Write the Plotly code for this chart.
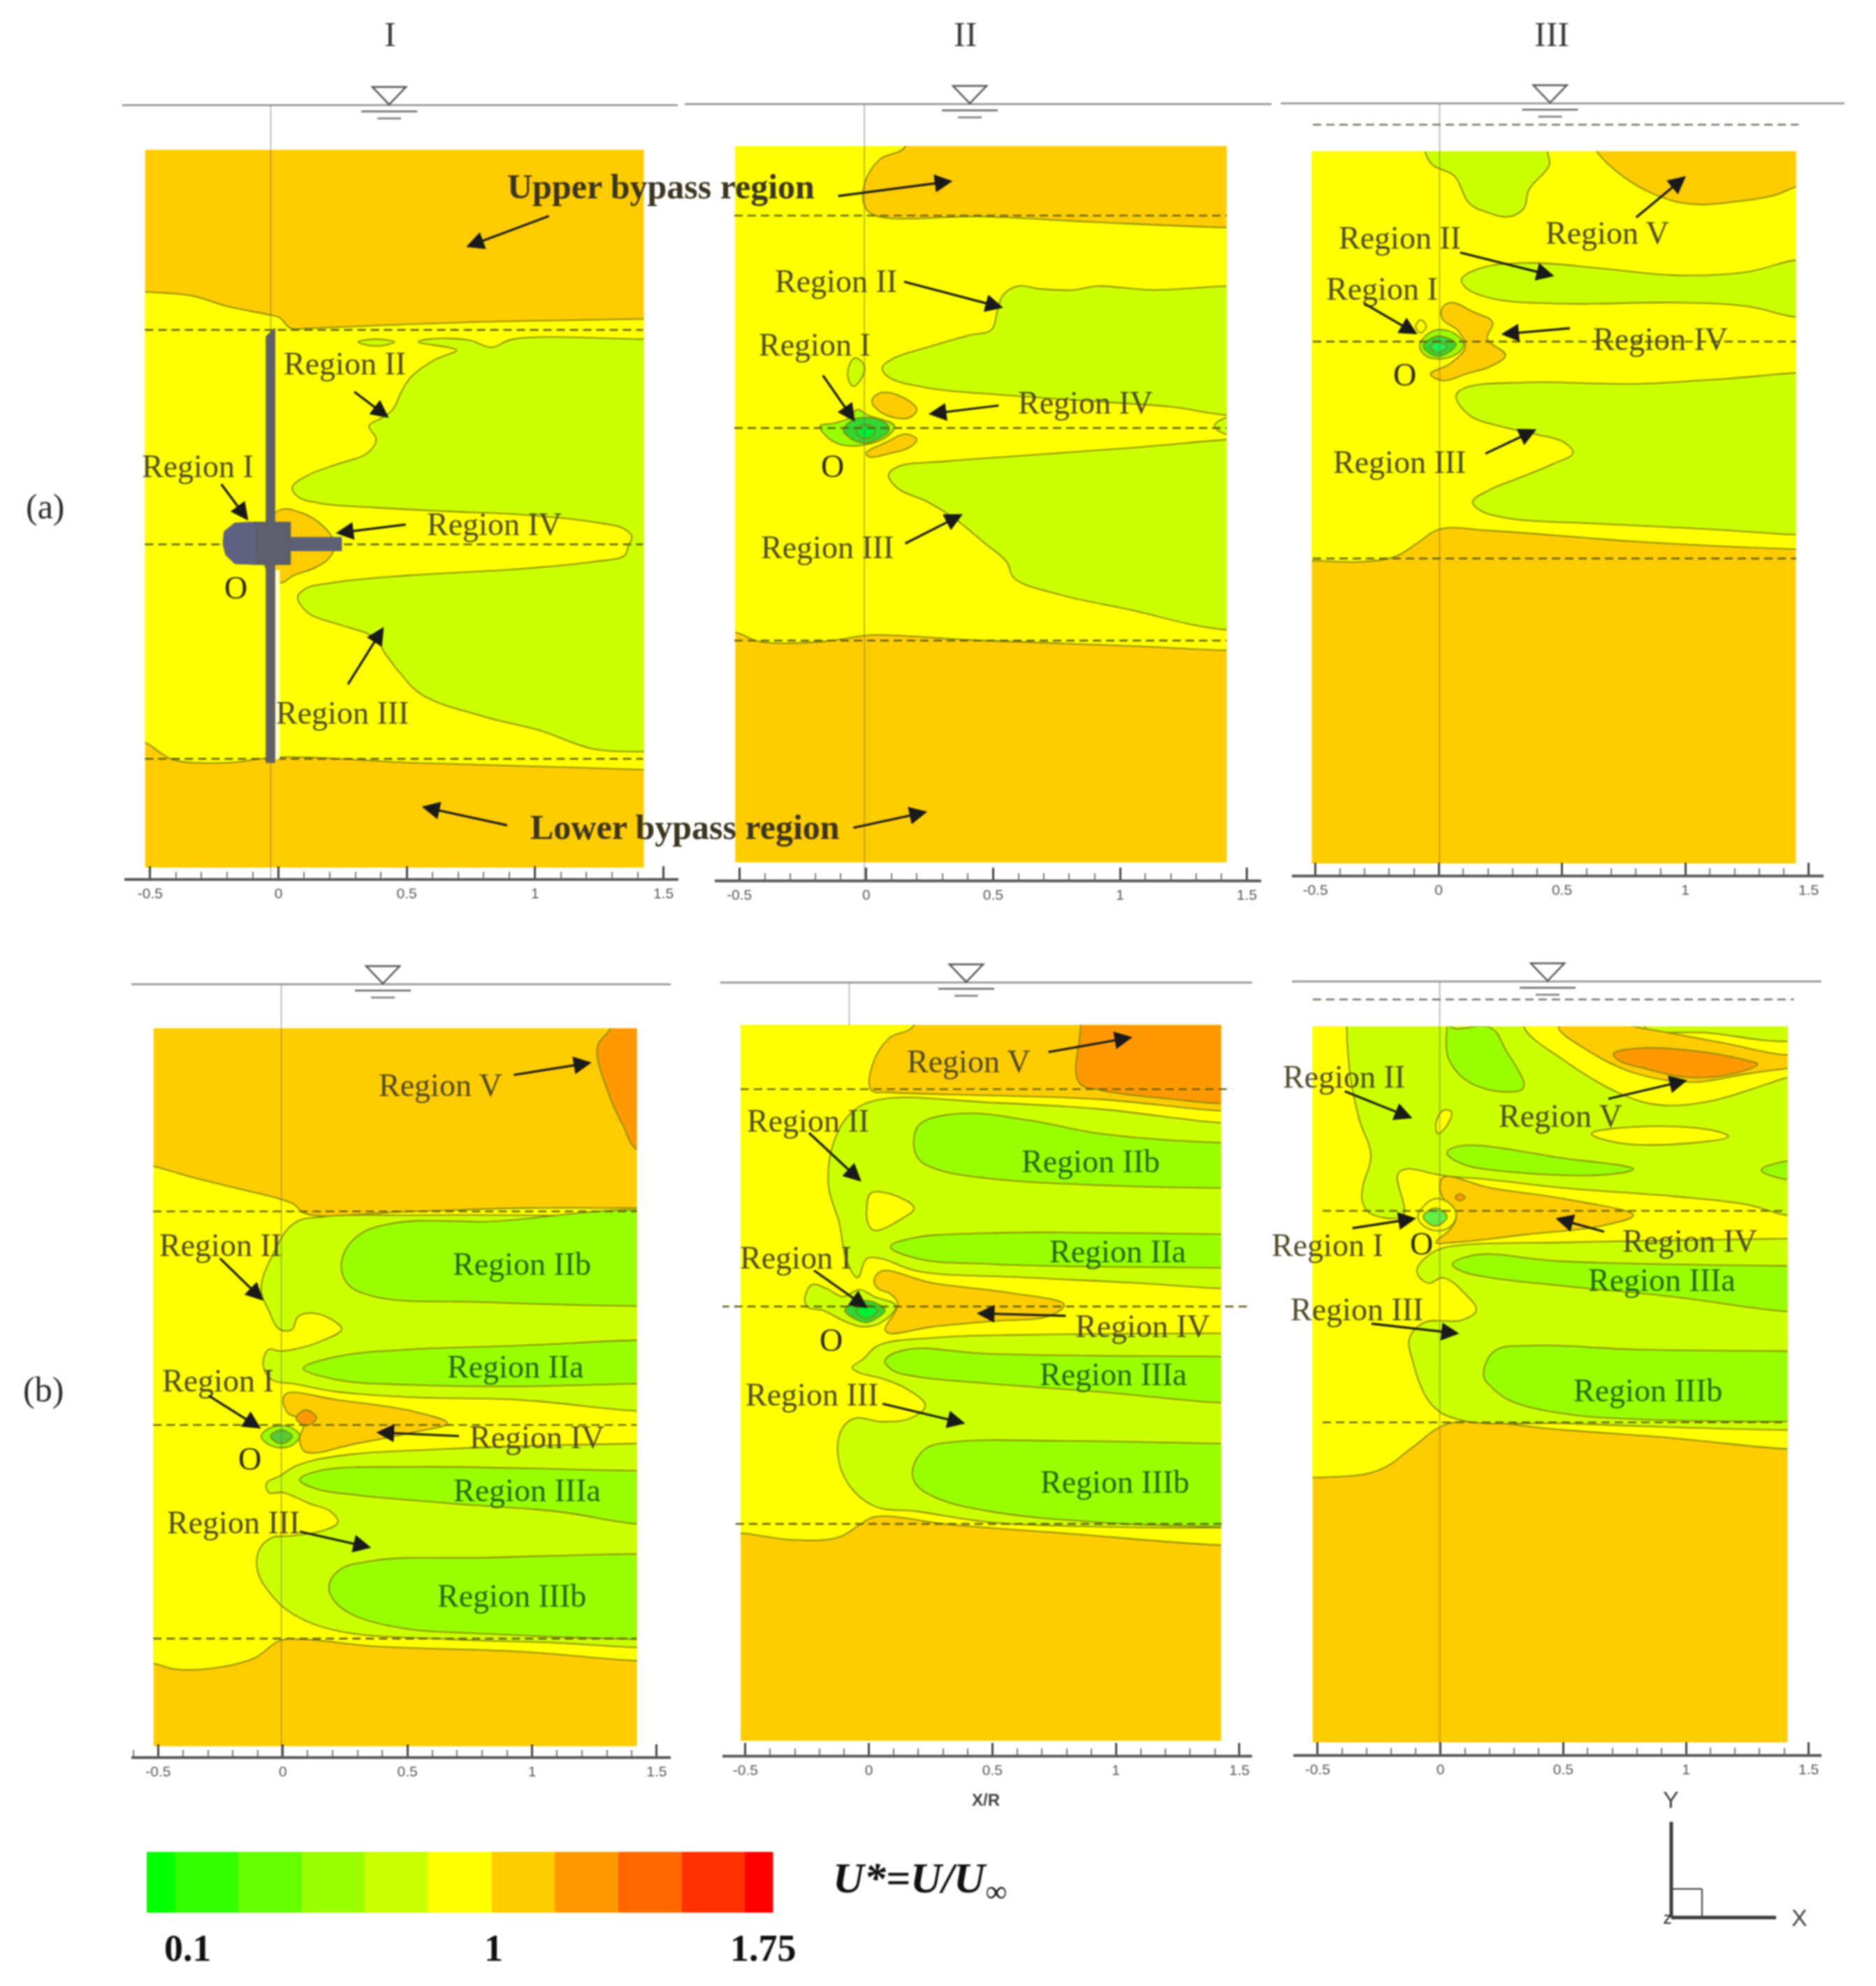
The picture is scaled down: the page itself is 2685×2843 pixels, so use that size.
import plotly.graph_objects as go

# ---------------- colour levels of U* (from the colour bar) ----------------
BAR_EDGES = [0.02, 0.1, 0.28, 0.46, 0.64, 0.82, 1.0, 1.18, 1.36, 1.54, 1.72, 1.80]
BAR_COLORS = ["#00FF00", "#33FF00", "#66FF00", "#99FF00", "#CCFF00", "#FFFF00",
              "#FFCC00", "#FF9900", "#FF6600", "#FF3300", "#FF0000"]
BAR_TICKS = ["0.1", "1", "1.75"]
ORANGE, DEEP, YELLOW, LIME, GREEN, HOT, CORE = "#FFCC00", "#FF9900", "#FFFF00", "#CCFF00", "#99FF00", "#66FF22", "#33D633"

COLUMN_TITLES = ["I", "II", "III"]
ROW_TITLES = ["(a)", "(b)"]
TICK_VALUES = [-0.5, 0, 0.5, 1, 1.5]
TICK_TEXT = ["-0.5", "0", "0.5", "1", "1.5"]

BASE_X = [-1, 2, 2, -1, -1]
BASE_Y = [-4, -4, 4, 4, -4]

# ---------------- panel (a)-I ----------------
A1_YELLOW_X = [-.7,-.519,-.437,-.337,-.195,-.038,.004,.047,.118,.374,.801,1.422,1.6,1.6,1.422,1.085,.516,.004,-.195,-.408,-.465,-.519,-.7]
A1_YELLOW_Y = [1.19,1.177,1.172,1.159,1.109,1.071,1.058,1.008,1.008,1.02,1.038,1.051,1.06,-1.06,-1.051,-1.038,-1.018,-.992,-1.018,-1.005,-.967,-.924,-.88]
A1_WAKE_X = [.054,.118,.232,.346,.381,.353,.403,.445,.481,.516,.602,.694,.659,.545,.587,.744,.829,.915,1.422,1.6,1.6,1.422,1.228,1.014,.801,.559,.474,.417,.374,.232,.118,.075,.104,.232,.516,.943,1.228,1.349,1.363,1.377,1.349,1.228,.943,.659,.374,.161,.075]
A1_WAKE_Y = [.266,.324,.375,.425,.489,.552,.59,.628,.716,.78,.856,.906,.919,.944,.957,.952,.919,.957,.957,.957,-.967,-.967,-.954,-.866,-.803,-.701,-.6,-.511,-.435,-.372,-.322,-.246,-.208,-.175,-.144,-.114,-.081,-.051,-.005,.033,.071,.104,.139,.154,.172,.192,.223]
A1_LENS_X = [.31,.381,.452,.381]
A1_LENS_Y = [.944,.957,.944,.925]
A1_NACELLE_WAKE_X = [-.081,.004,.09,.175,.218,.203,.147,.061,.004]
A1_NACELLE_WAKE_Y = [.008,.159,.147,.084,.008,-.056,-.106,-.144,-.177]
# turbine
BLADE_X = [-.048,-.014,-.014,-.048,-.048]
BLADE_Y = [.97,1.008,-1.018,-1.018,.97]
BLADE_EDGE_X = [-.014,.004,.004,-.014,-.014]
BLADE_EDGE_Y = [-.12,-.12,-1.0,-1.0,-.12]
HUB_X = [-.092,.047,.047,-.092,-.092]
HUB_Y = [.104,.104,-.094,-.094,.104]
NOSE_X = [-.092,-.17,-.212,-.216,-.205,-.17,-.092]
NOSE_Y = [.104,.1,.06,.0,-.05,-.09,-.094]
SHAFT_X = [.047,.246,.246,.047,.047]
SHAFT_Y = [.033,.033,-.03,-.03,.033]

# ---------------- panel (a)-II ----------------
A2_YELLOW_X = [-.7,.155,.155,.052,-.007,-.007,.037,.465,.907,1.42,1.6,1.6,1.42,1.055,.465,.022,-.066,-.169,-.42,-.516,-.7]
A2_YELLOW_Y = [1.6,1.6,1.327,1.263,1.148,1.046,1.0,.995,.969,.944,.944,-1.046,-1.046,-1.026,-1.0,-.974,-.987,-1.005,-1.005,-.962,-.962]
A2_UPPER_X = [.063,.111,.243,.406,.494,.516,.538,.597,.686,.819,.907,1.128,1.42,1.6,1.6,1.42,1.202,.907,.538,.243,.088]
A2_UPPER_Y = [.284,.33,.381,.437,.463,.547,.624,.668,.655,.65,.668,.65,.668,.668,.061,.061,.1,.125,.156,.189,.24]
A2_LOWER_X = [.088,.125,.317,.612,1.055,1.42,1.6,1.6,1.42,1.276,1.055,.76,.583,.553,.465,.347,.243,.125]
A2_LOWER_Y = [-.22,-.182,-.156,-.13,-.092,-.054,-.04,-.949,-.949,-.923,-.859,-.783,-.706,-.629,-.54,-.425,-.348,-.284]
A2_TIP_X = [1.373,1.42,1.6,1.6,1.42]
A2_TIP_Y = [.01,.05,.05,-.03,-.03]
A2_DROP_X = [-.066,-.071,-.044,-.007,-.022,-.052]
A2_DROP_Y = [.215,.279,.33,.292,.228,.197]
A2_LOBE1_X = [.022,.052,.133,.199,.169,.111,.052]
A2_LOBE1_Y = [.125,.164,.151,.087,.049,.049,.079]
A2_LOBE2_X = [0,.081,.155,.199,.169,.096,.015]
A2_LOBE2_Y = [-.118,-.066,-.028,-.054,-.092,-.118,-.136]
A2_RING_X = [-.181,-.125,-.066,-.037,.007,.111,.081,-.007,-.096,-.155]
A2_RING_Y = [.01,.023,.049,.087,.061,.01,-.041,-.079,-.079,-.041]
A2_MID_X = [-.09,-.05,0,.07,.09,.05,-.01,-.06]
A2_MID_Y = [-.01,.04,.05,.03,-.01,-.05,-.07,-.05]
A2_CORE_X = [-.04,-.01,.03,.03,-.01]
A2_CORE_Y = [-.015,.015,0,-.03,-.05]

# ---------------- panel (a)-III ----------------
A3_YELLOW_X = [-.7,1.6,1.6,1.449,.804,.212,.004,-.084,-.173,-.307,-.514,-.7]
A3_YELLOW_Y = [1.1,1.1,-.96,-.957,-.922,-.872,-.865,-.927,-.99,-1.015,-1.01,-1.01]
A3_CROWN_X = [.6,.641,.745,.879,1.027,1.25,1.369,1.449,1.6,1.6]
A3_CROWN_Y = [.98,.877,.764,.677,.634,.652,.677,.714,.75,.98]
A3_TOPGREEN_X = [-.055,-.055,-.025,.064,.123,.197,.286,.345,.367,.449,.441,.441]
A3_TOPGREEN_Y = [.98,.877,.815,.764,.639,.596,.576,.614,.702,.815,.877,.98]
A3_BAND_X = [.093,.167,.36,.656,.953,1.249,1.449,1.6,1.6,1.449,1.249,.953,.508,.212,.108]
A3_BAND_Y = [.288,.338,.363,.338,.306,.321,.376,.376,.113,.113,.163,.18,.175,.2,.251]
A3_LOWER_X = [.071,.108,.36,.804,1.175,1.449,1.6,1.6,1.449,1.101,.656,.286,.167,.138,.197,.33,.464,.545,.508,.39,.241,.123]
A3_LOWER_Y = [-.251,-.213,-.188,-.195,-.17,-.145,-.145,-.89,-.89,-.865,-.84,-.815,-.777,-.739,-.689,-.627,-.564,-.514,-.464,-.426,-.388,-.338]
A3_LOBE_X = [.012,.049,.138,.219,.197,.271,.212,.108,.019,-.033,.049,.108,.079,.019]
A3_LOBE_Y = [.15,.18,.138,.088,.013,-.063,-.113,-.15,-.18,-.15,-.1,-.025,.05,.1]
A3_RING_X = [-.077,-.04,.012,.079,.101,.064,-.003,-.055]
A3_RING_Y = [-.018,.038,.055,.025,-.018,-.063,-.08,-.063]
A3_MID_X = [-.062,-.003,.071,-.003]
A3_MID_Y = [-.02,.025,-.013,-.068]
A3_CORE_X = [-.033,-.003,.034,-.003]
A3_CORE_Y = [-.025,0,-.025,-.05]
A3_DOT_X = [-.093,-.073,-.05,-.073]
A3_DOT_Y = [.07,.1,.07,.04]

# ---------------- panel (b)-I ----------------
B1_YELLOW_X = [-.7,-.519,-.365,-.145,-.013,.045,.089,.515,.955,1.421,1.6,1.6,1.421,.955,.368,.075,-.013,-.116,-.306,-.438,-.519,-.7]
B1_YELLOW_Y = [1.25,1.211,1.16,1.097,1.059,1.033,.99,1.0,1.015,1.015,1.015,-1.104,-1.104,-1.061,-1.036,-1.003,-1.01,-1.092,-1.142,-1.142,-1.117,-1.1]
B1_HOT_X = [1.314,1.262,1.306,1.365,1.424,1.6,1.6,1.314]
B1_HOT_Y = [1.858,1.771,1.555,1.402,1.288,1.288,1.98,1.98]
B1_UP_X = [-.013,-.057,-.087,-.043,.045,.163,.515,.955,1.421,1.6,1.6,1.421,.955,.515,.221,.045,-.043,-.079,-.057,-.013,.045,.163,.236,.207,.119,.06,.038]
B1_UP_Y = [.448,.537,.639,.791,.944,.975,.982,.982,.975,.975,.066,.066,.117,.13,.155,.193,.211,.282,.354,.346,.354,.397,.448,.486,.524,.506,.448]
B1_LOW_X = [-.065,-.013,.06,.221,.661,1.421,1.6,1.6,1.421,1.101,.661,.221,.045,-.043,-.101,-.094,-.043,.031,.163,.221,.192,.104,.001,-.057]
B1_LOW_Y = [-.272,-.239,-.188,-.145,-.112,-.087,-.087,-1.041,-1.041,-1.02,-1.003,-.964,-.888,-.799,-.684,-.583,-.527,-.519,-.494,-.455,-.405,-.366,-.316,-.316]
B1_IIB_X = [1.6,.808,.441,.295,.236,.258,.368,.808,1.421,1.6]
B1_IIB_Y = [.944,.952,.944,.88,.766,.664,.601,.575,.557,.557]
B1_IIA_X = [.082,.221,.515,.955,1.421,1.6,1.6,1.421,.955,.515,.221]
B1_IIA_Y = [.265,.321,.354,.372,.397,.397,.193,.193,.181,.188,.211]
B1_IIIA_X = [.067,.148,.515,1.421,1.6,1.6,1.421,1.101,.661,.295,.133]
B1_IIIA_Y = [-.257,-.214,-.196,-.214,-.214,-.463,-.463,-.405,-.366,-.328,-.298]
B1_IIIB_X = [.185,.221,.368,.808,1.421,1.6,1.6,1.421,.808,.485,.28,.207]
B1_IIIB_Y = [-.761,-.684,-.634,-.621,-.603,-.603,-1.003,-1.003,-.977,-.952,-.888,-.824]
B1_IV_X = [.001,.016,.221,.515,.661,.515,.295,.089,.067,.082,.075,.023]
B1_IV_Y = [.117,.148,.117,.066,.008,-.036,-.087,-.125,-.061,-.01,.028,.053]
B1_SPOT_X = [.053,.094,.135,.094]
B1_SPOT_Y = [.033,.07,.033,-.003]
B1_RING_X = [-.087,-.043,.03,.067,.03,-.043]
B1_RING_Y = [-.053,-.01,-.01,-.053,-.099,-.099]
B1_MID_X = [-.05,-.006,.038,-.006]
B1_MID_Y = [-.053,-.023,-.053,-.087]

# ---------------- panel (b)-II ----------------
B2_YELLOW_X = [-.7,.183,.183,.08,.013,.009,.08,.524,.938,1.426,1.6,1.6,1.426,.79,.346,.021,-.038,-.127,-.32,-.515,-.7]
B2_YELLOW_Y = [1.6,1.6,1.295,1.233,1.108,.995,.985,.97,.953,.9,.9,-1.098,-1.098,-1.043,-1.005,-.968,-1.005,-1.063,-1.073,-1.043,-1.043]
B2_HOT_X = [.857,.849,.938,1.234,1.426,1.6,1.6,.857]
B2_HOT_Y = [1.295,1.033,.995,.953,.933,.933,1.6,1.6]
B2_UP_X = [-.046,-.09,-.12,-.164,-.142,-.068,.05,.494,.938,1.426,1.6,1.6,1.426,1.086,.642,.198,.05,-.009]
B2_UP_Y = [.133,.208,.383,.558,.758,.895,.953,.938,.908,.845,.845,.083,.083,.108,.133,.163,.22,.22]
B2_HOLE_X = [-.009,.006,.08,.183,.139,.021,-.006]
B2_HOLE_Y = [.445,.52,.52,.453,.408,.35,.39]
B2_IIB_X = [.183,.213,.376,.642,.938,1.426,1.6,1.6,1.426,.938,.494,.272,.198]
B2_IIB_Y = [.783,.845,.888,.858,.795,.753,.753,.545,.545,.558,.588,.633,.683]
B2_IIA_X = [.087,.169,.494,1.426,1.6,1.6,1.426,.938,.494,.198]
B2_IIA_Y = [.275,.313,.338,.333,.333,.178,.178,.183,.195,.22]
B2_IV_X = [.021,.05,.257,.568,.79,.731,.494,.257,.08,.065,.117,.087,.036]
B2_IV_Y = [.12,.163,.108,.063,.008,-.043,-.068,-.093,-.123,-.105,.008,.058,.083]
B2_LOW_X = [-.068,-.024,.036,.272,.642,1.426,1.6,1.6,1.426,.938,.494,.198,.021,-.083,-.127,-.105,-.053,.05,.169,.228,.154,.05,-.038]
B2_LOW_Y = [-.28,-.243,-.18,-.143,-.13,-.123,-.123,-1.018,-1.018,-1.013,-.993,-.943,-.918,-.818,-.668,-.555,-.513,-.53,-.513,-.455,-.38,-.33,-.305]
B2_IIIA_X = [.065,.154,.494,1.426,1.6,1.6,1.426,.938,.494,.198,.095]
B2_IIIA_Y = [-.248,-.198,-.218,-.23,-.23,-.443,-.443,-.393,-.355,-.323,-.293]
B2_IIIB_X = [.176,.228,.346,.79,1.426,1.6,1.6,1.426,.938,.494,.272,.191]
B2_IIIB_Y = [-.755,-.655,-.623,-.618,-.63,-.63,-1.013,-1.013,-.993,-.943,-.88,-.818]
B2_RING_X = [-.26,-.231,-.172,-.105,-.038,.021,.109,.05,-.024,-.098,-.186,-.246]
B2_RING_Y = [.033,.1,.083,.045,.078,.045,.003,-.073,-.093,-.068,-.018,-.005]
B2_MID_X = [-.098,-.06,-.024,.03,.065,.03,-.009,-.06]
B2_MID_Y = [-.018,.015,.028,.015,-.018,-.055,-.073,-.055]
B2_CORE_X = [-.053,-.016,.036,-.009]
B2_CORE_Y = [-.023,.008,-.018,-.055]

# ---------------- panel (b)-III ----------------
B3_YELLOW_X = [-.7,1.6,1.6,1.414,.949,.503,.086,-.003,-.122,-.256,-.521,-.7]
B3_YELLOW_Y = [1.1,1.1,-1.126,-1.126,-1.075,-1.036,-.997,-1.023,-1.126,-1.229,-1.262,-1.262]
B3_UP_X = [-.382,-.382,-.367,-.33,-.283,-.315,-.318,-.285,-.152,-.174,-.137,-.033,.012,.205,.503,.949,1.247,1.414,1.6,1.6]
B3_UP_Y = [.98,.871,.635,.43,.262,.12,.044,-.013,-.021,.172,.198,.177,.167,.147,.108,.069,.03,-.021,-.021,.98]
B3_V_X = [.339,.339,.503,.726,.89,1.098,1.321,1.414,1.6,1.6,1.414,1.098,.83,.83]
B3_V_Y = [.98,.871,.712,.558,.501,.519,.596,.63,.661,.841,.802,.841,.871,.98]
B3_ORANGE_X = [.481,.622,.801,1.024,1.247,1.414,1.6,1.6,1.414,1.173,.875,.606]
B3_ORANGE_Y = [.871,.743,.648,.609,.648,.674,.699,.763,.738,.789,.853,.9]
B3_HOT_X = [.704,.801,1.024,1.247,1.292,1.217,1.024,.83,.726]
B3_HOT_Y = [.743,.769,.758,.712,.694,.656,.63,.674,.712]
B3_TOP_X = [.042,.042,.205,.265,.339,.265,.116,.042,.024]
B3_TOP_Y = [.98,.871,.866,.763,.584,.563,.609,.699,.776]
B3_DROP_X = [-.018,.012,.045,.027,-.01]
B3_DROP_Y = [.416,.476,.468,.404,.365]
B3_STRIP_X = [.615,.801,1.098,1.173,1.024,.726]
B3_STRIP_Y = [.365,.398,.383,.352,.321,.321]
B3_GREEN_X = [.027,.086,.503,.786,.682,.28,.086]
B3_GREEN_Y = [.275,.308,.249,.198,.172,.185,.224]
B3_EDGE_X = [1.307,1.414,1.6,1.6,1.414]
B3_EDGE_Y = [.193,.236,.236,.147,.147]
B3_IV_X = [-.003,.012,.205,.503,.786,.652,.354,.057,-.018,.042,.064,.012]
B3_IV_Y = [.108,.159,.108,.057,-.021,-.072,-.111,-.149,-.149,-.085,-.021,.057]
B3_SPOT_X = [.06,.08,.1,.08]
B3_SPOT_Y = [.064,.08,.064,.048]
B3_LOW_X = [-.092,-.018,.086,.503,1.414,1.6,1.6,1.414,.949,.503,.086,-.033,-.115,-.125,-.063,.086,.146,.101,.012,-.048,-.092]
B3_LOW_Y = [-.265,-.188,-.162,-.149,-.131,-.131,-1.036,-1.036,-1.023,-1.005,-.99,-.92,-.702,-.599,-.527,-.517,-.47,-.393,-.316,-.342,-.303]
B3_IIIA_X = [.049,.146,.503,1.414,1.6,1.6,1.414,.949,.503,.205,.086]
B3_IIIA_Y = [-.252,-.208,-.239,-.26,-.26,-.476,-.476,-.406,-.355,-.316,-.285]
B3_IIIB_X = [.176,.22,.384,.801,1.414,1.6,1.6,1.414,.801,.503,.28,.205]
B3_IIIB_Y = [-.779,-.663,-.637,-.656,-.663,-.663,-.997,-.997,-.985,-.959,-.895,-.83]
B3_RING_X = [-.092,-.025,.042,.064,.027,-.048]
B3_RING_Y = [-.028,.057,.031,-.028,-.085,-.085]
B3_MID_X = [-.07,-.021,.027,-.021]
B3_MID_Y = [-.028,.013,-.028,-.072]

ZONES = [
    [(A1_YELLOW_X, A1_YELLOW_Y, YELLOW), (A1_WAKE_X, A1_WAKE_Y, LIME), (A1_LENS_X, A1_LENS_Y, LIME),
     (A1_NACELLE_WAKE_X, A1_NACELLE_WAKE_Y, ORANGE)],
    [(A2_YELLOW_X, A2_YELLOW_Y, YELLOW), (A2_UPPER_X, A2_UPPER_Y, LIME), (A2_LOWER_X, A2_LOWER_Y, LIME),
     (A2_TIP_X, A2_TIP_Y, LIME), (A2_DROP_X, A2_DROP_Y, LIME), (A2_LOBE1_X, A2_LOBE1_Y, ORANGE),
     (A2_LOBE2_X, A2_LOBE2_Y, ORANGE), (A2_RING_X, A2_RING_Y, GREEN), (A2_MID_X, A2_MID_Y, CORE),
     (A2_CORE_X, A2_CORE_Y, "#00EE33")],
    [(A3_YELLOW_X, A3_YELLOW_Y, YELLOW), (A3_CROWN_X, A3_CROWN_Y, ORANGE), (A3_TOPGREEN_X, A3_TOPGREEN_Y, LIME),
     (A3_BAND_X, A3_BAND_Y, LIME), (A3_LOWER_X, A3_LOWER_Y, LIME), (A3_LOBE_X, A3_LOBE_Y, ORANGE),
     (A3_DOT_X, A3_DOT_Y, YELLOW), (A3_RING_X, A3_RING_Y, GREEN), (A3_MID_X, A3_MID_Y, CORE),
     (A3_CORE_X, A3_CORE_Y, "#22EE55")],
    [(B1_HOT_X, B1_HOT_Y, DEEP), (B1_YELLOW_X, B1_YELLOW_Y, YELLOW), (B1_UP_X, B1_UP_Y, LIME), (B1_LOW_X, B1_LOW_Y, LIME),
     (B1_IIB_X, B1_IIB_Y, GREEN), (B1_IIA_X, B1_IIA_Y, GREEN), (B1_IIIA_X, B1_IIIA_Y, GREEN),
     (B1_IIIB_X, B1_IIIB_Y, GREEN), (B1_IV_X, B1_IV_Y, ORANGE), (B1_SPOT_X, B1_SPOT_Y, DEEP),
     (B1_RING_X, B1_RING_Y, GREEN), (B1_MID_X, B1_MID_Y, "#55CC33")],
    [(B2_YELLOW_X, B2_YELLOW_Y, YELLOW), (B2_HOT_X, B2_HOT_Y, DEEP), (B2_UP_X, B2_UP_Y, LIME), (B2_HOLE_X, B2_HOLE_Y, YELLOW),
     (B2_IIB_X, B2_IIB_Y, GREEN), (B2_IIA_X, B2_IIA_Y, GREEN), (B2_LOW_X, B2_LOW_Y, LIME),
     (B2_IIIA_X, B2_IIIA_Y, GREEN), (B2_IIIB_X, B2_IIIB_Y, GREEN), (B2_IV_X, B2_IV_Y, ORANGE),
     (B2_RING_X, B2_RING_Y, LIME), (B2_MID_X, B2_MID_Y, CORE), (B2_CORE_X, B2_CORE_Y, "#00EE33")],
    [(B3_YELLOW_X, B3_YELLOW_Y, YELLOW), (B3_UP_X, B3_UP_Y, LIME), (B3_V_X, B3_V_Y, YELLOW), (B3_ORANGE_X, B3_ORANGE_Y, ORANGE),
     (B3_HOT_X, B3_HOT_Y, DEEP), (B3_TOP_X, B3_TOP_Y, GREEN), (B3_DROP_X, B3_DROP_Y, YELLOW),
     (B3_STRIP_X, B3_STRIP_Y, YELLOW), (B3_GREEN_X, B3_GREEN_Y, GREEN), (B3_EDGE_X, B3_EDGE_Y, GREEN),
     (B3_IV_X, B3_IV_Y, ORANGE), (B3_SPOT_X, B3_SPOT_Y, DEEP), (B3_LOW_X, B3_LOW_Y, LIME),
     (B3_IIIA_X, B3_IIIA_Y, GREEN), (B3_IIIB_X, B3_IIIB_Y, GREEN), (B3_RING_X, B3_RING_Y, YELLOW),
     (B3_MID_X, B3_MID_Y, "#66EE44")],
]

# dashed lines: (Y/R, x start, x end)
DASHES = [
    [(1, -.52, 1.42), (0, -.52, 1.42), (-1, -.52, 1.42)],
    [(1, -.52, 1.42), (0, -.52, 1.42), (-1, -.52, 1.42)],
    [(1, -.51, 1.46), (0, -.51, 1.45), (-1, -.51, 1.45)],
    [(1, -.52, 1.42), (0, -.52, 1.42), (-1, -.52, 1.42)],
    [(1, -.52, 1.47), (0, -.6, 1.53), (-1, -.54, 1.43)],
    [(1, -.52, 1.44), (0, -.48, 1.41), (-1, -.48, 1.41)],
]
# faint vertical through the origin: (x, y top, y bottom)
ORIGIN_LINES = [(-.03, 3, -3), (-.007, 3, -3), (.004, 3, -3), (-.006, 3, -3), (-.08, 3, 1.295), (-.003, 3, -3)]

# ---------------- page layout, in pixels of the full picture ----------------
W, H = 2685, 2843
S = 2685 / 1481
# x0, sx, y0, sy, contour L R T B, ruler L R Y, water Y L R, water-symbol X
GEOM = [
    (398.5, 367.4, 779.3, 307.0, 207.7, 921.5, 214.4, 1242.0, 178, 971, 1257.0, 150.6, 175, 970, 557),
    (1239.8, 363.2, 612.8, 304.2, 1052.3, 1755.7, 208.9, 1234.5, 1023, 1805, 1259.0, 149.0, 980, 1820, 1388),
    (2059.0, 353.0, 489.0, 310.5, 1877.5, 2570.4, 216.7, 1236.0, 1849, 2610, 1251.6, 148.0, 1833, 2640, 2218.5),
    (404.8, 356.7, 2039.9, 305.8, 219.7, 911.6, 1472.0, 2499.8, 188, 960, 2513.8, 1409.0, 188, 960, 548),
    (1243.7, 353.5, 1870.3, 311.2, 1060.0, 1747.8, 1467.3, 2492.0, 1034, 1792, 2512.0, 1406.6, 1031, 1792, 1383),
    (2061.6, 351.4, 1733.4, 302.7, 1878.6, 2558.4, 1469.6, 2494.3, 1851, 2607, 2511.0, 1405.0, 1849, 2607, 2215),
]

TITLE_POS = [(308, 27), (762, 27), (1225, 27)]
ROW_POS = [(36, 400), (34, 1097)]

# text, x, y (in reference-preview pixels), style
LABELS = [
    ("Upper bypass region", 522, 147, "bold"), ("Lower bypass region", 541, 653, "bold"),
    ("Region II", 272, 287, "r"), ("Region I", 156, 368, "r"), ("Region IV", 390, 414, "r"), ("Region III", 270, 563, "r"), ("O", 186, 464, "o"),
    ("Region II", 660, 222, "r"), ("Region I", 643, 272, "r"), ("Region IV", 857, 318, "r"), ("Region III", 653, 432, "r"), ("O", 657, 368, "o"),
    ("Region II", 1105, 188, "r"), ("Region V", 1269, 184, "r"), ("Region I", 1091, 228, "r"), ("Region IV", 1311, 268, "r"), ("Region III", 1105, 365, "r"), ("O", 1109, 296, "o"),
    ("Region V", 348, 857, "r"), ("Region II", 174, 983, "r"), ("Region IIb", 412, 998, "g"), ("Region IIa", 407, 1079, "g"), ("Region I", 172, 1090, "r"),
    ("Region IV", 424, 1135, "r"), ("O", 197, 1152, "o"), ("Region IIIa", 416, 1177, "g"), ("Region III", 184, 1202, "r"), ("Region IIIb", 404, 1260, "g"),
    ("Region V", 765, 838, "r"), ("Region II", 638, 885, "r"), ("Region IIb", 861, 917, "g"), ("Region IIa", 882, 988, "g"), ("Region I", 628, 993, "r"),
    ("Region IV", 902, 1047, "r"), ("O", 656, 1058, "o"), ("Region IIIa", 879, 1085, "g"), ("Region III", 641, 1101, "r"), ("Region IIIb", 880, 1170, "g"),
    ("Region II", 1061, 850, "r"), ("Region V", 1232, 881, "r"), ("Region I", 1048, 983, "r"), ("O", 1122, 982, "o"), ("Region IV", 1334, 980, "r"),
    ("Region IIIa", 1312, 1011, "g"), ("Region III", 1071, 1034, "r"), ("Region IIIb", 1301, 1098, "g"),
]
# tail x, tail y, head x, head y (reference-preview pixels)
ARROWS = [
    (435, 170, 368, 195), (660, 155, 752, 143), (402, 652, 333, 637), (672, 654, 732, 641),
    (278, 308, 307, 330), (173, 380, 196, 411), (322, 414, 265, 421), (273, 543, 303, 495),
    (712, 222, 792, 243), (648, 294, 675, 333), (790, 320, 733, 327), (713, 430, 760, 406),
    (1151, 199, 1227, 218), (1290, 173, 1331, 139), (1076, 239, 1119, 264), (1241, 259, 1185, 264), (1171, 359, 1213, 339),
    (404, 849, 467, 839), (172, 992, 208, 1027), (163, 1101, 206, 1128), (364, 1134, 297, 1131), (235, 1209, 293, 1222),
    (826, 831, 894, 819), (637, 893, 680, 933), (641, 1002, 685, 1033), (843, 1039, 771, 1037), (695, 1108, 762, 1124),
    (1060, 861, 1115, 883), (1268, 868, 1332, 853), (1066, 970, 1118, 962), (1268, 973, 1228, 962), (1081, 1045, 1152, 1053),
]

SERIF = "Liberation Serif"
OUTLINE = "#86860E"


def fx(p):
    return p / W


def fy(p):
    return 1 - p / H


fig = go.Figure()
layout = dict(width=W, height=H, margin=dict(l=0, r=0, t=0, b=0), autosize=False,
              paper_bgcolor="white", plot_bgcolor="rgba(0,0,0,0)", showlegend=False)
shapes, annotations = [], []


def hidden(**kw):
    return dict(visible=False, fixedrange=True, **kw)


def polygon(x, y, color, xa, ya, smooth=True, line=OUTLINE, width=1.8):
    if smooth:
        x, y = list(x) + [x[0]], list(y) + [y[0]]
    fig.add_trace(go.Scatter(x=x, y=y, xaxis=xa, yaxis=ya, mode="lines", fill="toself", fillcolor=color,
                             line=dict(color=line, width=width, shape="spline" if smooth else "linear", smoothing=1.1),
                             hoverinfo="skip"))


for i, g in enumerate(GEOM, start=1):
    x0, sx, y0, sy, L, R, T, B = g[:8]
    layout[f"xaxis{i}"] = hidden(domain=[fx(L), fx(R)], range=[(L - x0) / sx, (R - x0) / sx], anchor=f"y{i}")
    layout[f"yaxis{i}"] = hidden(domain=[fy(B), fy(T)], range=[(y0 - B) / sy, (y0 - T) / sy], anchor=f"x{i}")
    polygon(BASE_X, BASE_Y, ORANGE, f"x{i}", f"y{i}", smooth=False, line=ORANGE, width=0)
    for zx, zy, col in ZONES[i - 1]:
        polygon(zx, zy, col, f"x{i}", f"y{i}")

for k, g in enumerate(GEOM):
    i = k + 7
    x0, sx, y0, sy = g[:4]
    rl, rr, ry, wy, wl, wr, wx = g[8:]
    layout[f"xaxis{i}"] = dict(domain=[fx(rl), fx(rr)], range=[(rl - x0) / sx, (rr - x0) / sx], anchor=f"y{i}",
                               showline=True, linecolor="#5A5A5A", linewidth=4, showgrid=False, zeroline=False,
                               ticks="inside", ticklen=17, tickwidth=2.5, tickcolor="#444444",
                               tickvals=TICK_VALUES, ticktext=TICK_TEXT, fixedrange=True,
                               tickfont=dict(family="Liberation Sans", size=21, color="#555555"),
                               minor=dict(ticks="inside", ticklen=9, tickwidth=1.5, tickcolor="#777777", dtick=0.1, tick0=-0.5, showgrid=False))
    layout[f"yaxis{i}"] = hidden(domain=[fy(ry), fy(wy)], range=[(y0 - ry) / sy, (y0 - wy) / sy], anchor=f"x{i}")
    ox, oy0, oy1 = ORIGIN_LINES[k]
    fig.add_trace(go.Scatter(x=[ox, ox], y=[oy0, oy1], xaxis=f"x{i}", yaxis=f"y{i}", mode="lines",
                             line=dict(color="rgba(110,110,110,0.55)", width=1.6), hoverinfo="skip"))
    for dy, xa, xb in DASHES[k]:
        col = "#777766" if (dy == 1 and k in (2, 5)) else "#5F5F10"
        fig.add_trace(go.Scatter(x=[xa, xb], y=[dy, dy], xaxis=f"x{i}", yaxis=f"y{i}", mode="lines",
                                 line=dict(color=col, width=2.4, dash="12px,7px"), hoverinfo="skip"))
    shapes.append(dict(type="line", xref="paper", yref="paper", x0=fx(wl), x1=fx(wr), y0=fy(wy), y1=fy(wy),
                       line=dict(color="#8A8A8A", width=2.5)))
    shapes.append(dict(type="path", xref="paper", yref="paper",
                       path=f"M {fx(wx-24)} {fy(wy-26)} L {fx(wx+24)} {fy(wy-26)} L {fx(wx)} {fy(wy-1)} Z",
                       line=dict(color="#555555", width=2.5), fillcolor="white"))
    shapes.append(dict(type="line", xref="paper", yref="paper", x0=fx(wx-40), x1=fx(wx+40), y0=fy(wy+9), y1=fy(wy+9),
                       line=dict(color="#666666", width=2.5)))
    shapes.append(dict(type="line", xref="paper", yref="paper", x0=fx(wx-17), x1=fx(wx+17), y0=fy(wy+19), y1=fy(wy+19),
                       line=dict(color="#777777", width=2.5)))

for tx, ty, col, sm in [(BLADE_EDGE_X, BLADE_EDGE_Y, "#FFFFC8", False), (BLADE_X, BLADE_Y, "#5F6068", False),
                        (SHAFT_X, SHAFT_Y, "#5E6078", False), (HUB_X, HUB_Y, "#5C5E6C", False), (NOSE_X, NOSE_Y, "#5F6180", False)]:
    polygon(tx, ty, col, "x7", "y7", smooth=sm, line=col, width=1)

layout["xaxis13"] = hidden(domain=[fx(210), fx(1106.5)], range=[BAR_EDGES[0], BAR_EDGES[-1]], anchor="y13")
layout["yaxis13"] = hidden(domain=[fy(2738), fy(2651)], range=[0, 1], anchor="x13")
n = len(BAR_COLORS)
scale = []
for j, c in enumerate(BAR_COLORS):
    scale += [[j / n, c], [(j + 1) / n, c]]
fig.add_trace(go.Heatmap(x=BAR_EDGES, y=[0, 1], z=[list(range(n))], zmin=-0.5, zmax=n - 0.5,
                         colorscale=scale, showscale=False, hoverinfo="skip", xaxis="x13", yaxis="y13"))


def text(t, px, py, size, color="#222222", family=SERIF, bold=False, italic=False):
    s = f"<b>{t}</b>" if bold else t
    s = f"<i>{s}</i>" if italic else s
    annotations.append(dict(text=s, x=fx(px), y=fy(py), xref="paper", yref="paper", showarrow=False,
                            xanchor="center", yanchor="middle", font=dict(family=family, size=size, color=color)))


for t, p in zip(COLUMN_TITLES, TITLE_POS):
    text(t, p[0] * S, p[1] * S, 50, "#3A3A3A")
for t, p in zip(ROW_TITLES, ROW_POS):
    text(t, p[0] * S, p[1] * S, 50, "#2A2A2A")
for t, lx, ly, st in LABELS:
    if st == "bold":
        text(t, lx * S, ly * S, 50, "#3B3520", bold=True)
    elif st == "g":
        text(t, lx * S, ly * S, 46, "#1F6A1A")
    elif st == "o":
        text(t, lx * S, ly * S, 46, "#2E2A10")
    else:
        text(t, lx * S, ly * S, 46, "#4E4A28")

for tx, ty, hx, hy in ARROWS:
    annotations.append(dict(text=" ", x=fx(hx * S), y=fy(hy * S), xref="paper", yref="paper",
                            ax=(tx - hx) * S, ay=(ty - hy) * S, axref="pixel", ayref="pixel", showarrow=True,
                            arrowhead=2, arrowsize=1.6, arrowwidth=3.2, arrowcolor="#1A1A1A"))

for t, px_ in zip(BAR_TICKS, (269, 706, 1092)):
    text(t, px_, 2789, 54, "#111111", bold=True)
text("U*=U/U<sub>∞</sub>", 1316, 2692, 62, "#111111", bold=True, italic=True)
text("X/R", 1411, 2576, 24, "#444444", family="Liberation Sans", bold=True)

for x_a, y_a, x_b, y_b, wd in [(2392, 2608, 2392, 2745, 5), (2392, 2745, 2542, 2745, 5), (2392, 2704, 2436, 2704, 2),
                               (2436, 2704, 2436, 2745, 2)]:
    shapes.append(dict(type="line", xref="paper", yref="paper", x0=fx(x_a), x1=fx(x_b), y0=fy(y_a), y1=fy(y_b),
                       line=dict(color="#3A3A3A", width=wd)))
text("Y", 2391, 2576, 34, "#444444", family="Liberation Sans")
text("X", 2575, 2745, 34, "#444444", family="Liberation Sans")
text("Z", 2386, 2748, 18, "#333333", family="Liberation Sans", bold=True)

layout["shapes"] = shapes
layout["annotations"] = annotations
fig.update_layout(**layout)
fig.write_html("out.html", config={"displayModeBar": False},
               post_script="document.body.style.margin='0';document.body.style.overflow='hidden';"
                           "document.querySelector('.plotly-graph-div').style.filter='blur(1.1px)';")
